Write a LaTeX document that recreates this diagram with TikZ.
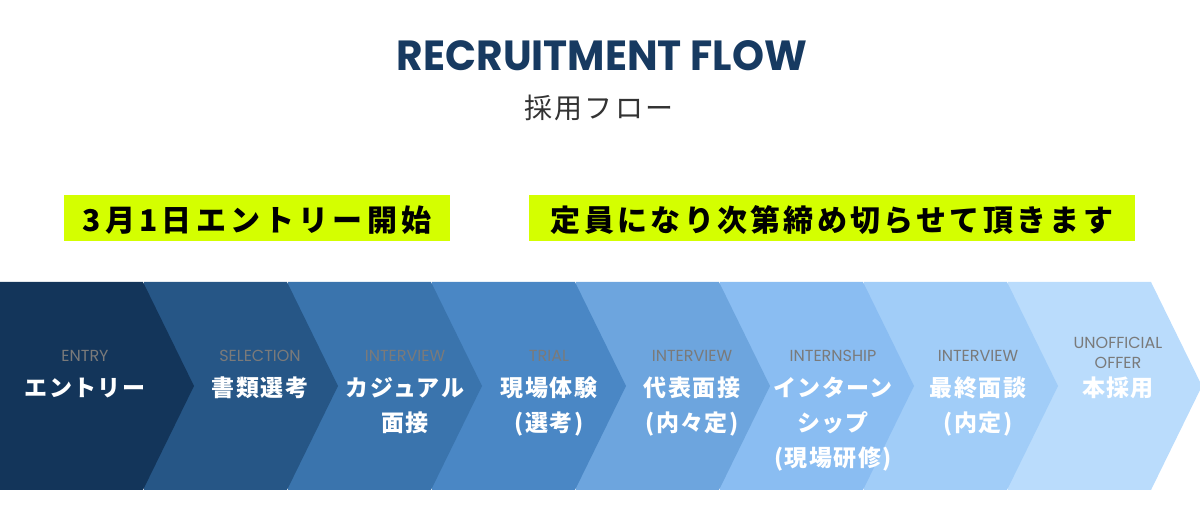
\documentclass[tikz,border=0pt]{standalone}
\usepackage{fontspec}
\usepackage{graphicx}
\newfontfamily\jp{Noto Sans CJK JP}
\newfontfamily\lab{Poppins}
\definecolor{c1}{HTML}{13355A}
\definecolor{c2}{HTML}{265686}
\definecolor{c3}{HTML}{3A74AD}
\definecolor{c4}{HTML}{4A87C5}
\definecolor{c5}{HTML}{6DA5DE}
\definecolor{c6}{HTML}{8ABDF2}
\definecolor{c7}{HTML}{A1CDF8}
\definecolor{c8}{HTML}{BADCFC}
\definecolor{navy}{HTML}{173A61}
\definecolor{labgray}{HTML}{7A7A7A}
\definecolor{hilite}{HTML}{D4FF00}
\definecolor{subgray}{HTML}{333333}
\begin{document}
\begin{tikzpicture}[x=1pt,y=-1pt,
  en/.style={font=\lab\fontsize{16}{18}\selectfont, text=labgray, anchor=base, inner sep=0pt},
  ja/.style={font=\jp\bfseries\fontsize{23}{28}\selectfont\addfontfeature{LetterSpace=6}, text=white, anchor=base, inner sep=0pt},
  band/.style={fill=hilite, draw=none},
  banner/.style={font=\jp\bfseries\fontsize{30}{34}\selectfont\addfontfeature{LetterSpace=14}, text=black, anchor=base, inner sep=0pt},
  bannerb/.style={font=\jp\bfseries\fontsize{30}{34}\selectfont\addfontfeature{LetterSpace=11}, text=black, anchor=base, inner sep=0pt}]
\useasboundingbox (0,0) rectangle (1200,510);
% chevrons, drawn right to left so each notch is covered by its left neighbour
\foreach \i/\c in {7/c8,6/c7,5/c6,4/c5,3/c4,2/c3,1/c2,0/c1} {
  \pgfmathsetmacro\s{144*\i}
  \fill[\c] (\s,282) -- (\s+143,282) -- (\s+194,386) -- (\s+143,490) -- (\s,490) -- cycle;
}
% title
\node[inner sep=0pt, text=navy] (title) at (602,56) {\resizebox{410pt}{30pt}{\lab\bfseries RECRUITMENT FLOW}};
\node[font=\jp\fontsize{28}{32}\selectfont\addfontfeature{LetterSpace=8}, text=subgray, anchor=base, inner sep=0pt] (subtitle) at (599,119) {採用フロー};
% highlighted notes
\fill[band] (64,195) rectangle (450,241);
\fill[band] (529,195) rectangle (1135,241);
\node[banner] (note1) at (257,232) {3月1日エントリー開始};
\node[bannerb] (note2) at (832,232) {定員になり次第締め切らせて頂きます};
% step labels
\node[en] (e1) at (85,362) {ENTRY};
\node[ja] (j1) at (85,397) {エントリー};
\node[en] (e2) at (260,362) {SELECTION};
\node[ja] (j2) at (260,397) {書類選考};
\node[en] (e3) at (405,362) {INTERVIEW};
\node[ja] (j3a) at (405,397) {カジュアル};
\node[ja] (j3b) at (405,432) {面接};
\node[en] (e4) at (549,362) {TRIAL};
\node[ja] (j4a) at (549,397) {現場体験};
\node[ja] (j4b) at (549,432) {(選考)};
\node[en] (e5) at (692,362) {INTERVIEW};
\node[ja] (j5a) at (692,397) {代表面接};
\node[ja] (j5b) at (692,432) {(内々定)};
\node[en] (e6) at (833,362) {INTERNSHIP};
\node[ja] (j6a) at (833,397) {インターン};
\node[ja] (j6b) at (833,432) {シップ};
\node[ja] (j6c) at (833,467) {(現場研修)};
\node[en] (e7) at (978,362) {INTERVIEW};
\node[ja] (j7a) at (978,397) {最終面談};
\node[ja] (j7b) at (978,432) {(内定)};
\node[en] (e8a) at (1118,349) {UNOFFICIAL};
\node[en] (e8b) at (1118,369) {OFFER};
\node[ja] (j8) at (1118,397) {本採用};
\end{tikzpicture}
\end{document}
